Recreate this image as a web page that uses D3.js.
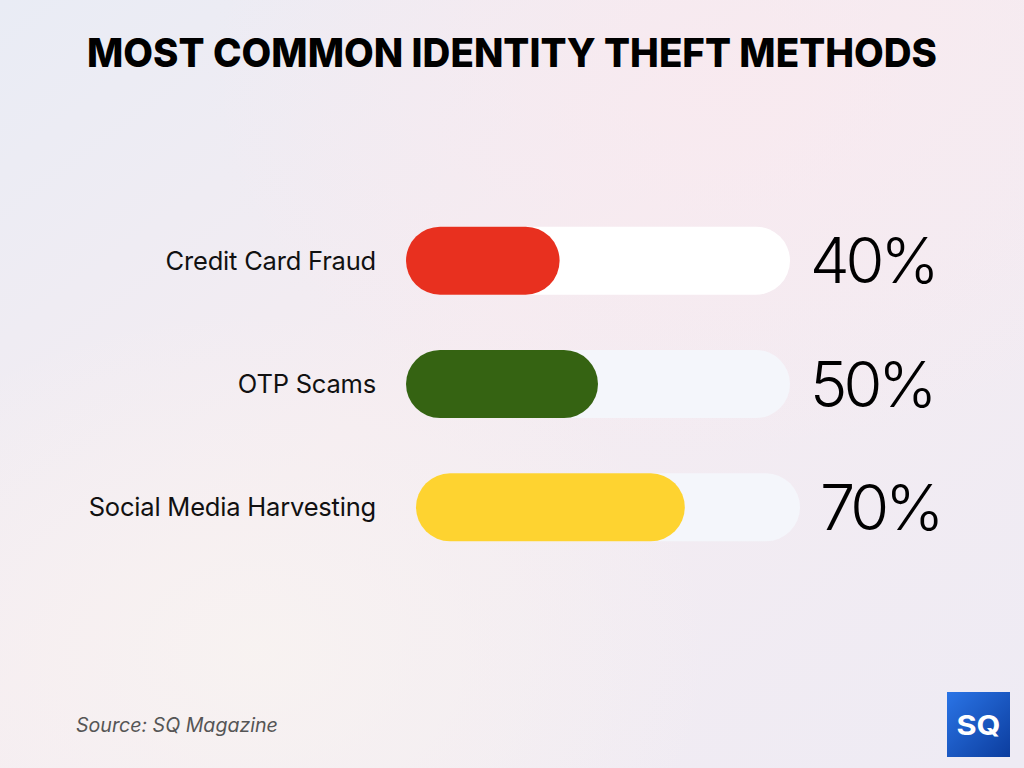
<!DOCTYPE html>
<html><head><meta charset="utf-8">
<script src="https://cdn.jsdelivr.net/npm/d3@7"></script>
<style>html,body{margin:0;padding:0;}svg{display:block;}</style>
</head><body>
<script>
const categories = ["Credit Card Fraud", "OTP Scams", "Social Media Harvesting"];
const values = [40, 50, 70];
const valueLabels = ["40%", "50%", "70%"];
const barColors = ["#e8301f", "#356312", "#fed330"];
const trackColors = ["#ffffff", "#f4f6fb", "#f4f6fb"];
const title = "MOST COMMON IDENTITY THEFT METHODS";
const source = "Source: SQ Magazine";

const W = 1024, H = 768;
const svg = d3.select("body").append("svg").attr("width", W).attr("height", H);
const defs = svg.append("defs");

// background
const bg = defs.append("linearGradient").attr("id","bg").attr("x1","0").attr("y1","0").attr("x2","1").attr("y2","1");
bg.append("stop").attr("offset","0").attr("stop-color","#e9ecf5");
bg.append("stop").attr("offset","0.45").attr("stop-color","#f5ecf1");
bg.append("stop").attr("offset","1").attr("stop-color","#eeebf4");
svg.append("rect").attr("width",W).attr("height",H).attr("fill","url(#bg)");
const rg = defs.append("radialGradient").attr("id","rg1").attr("cx","0.25").attr("cy","0.85").attr("r","0.45");
rg.append("stop").attr("offset","0").attr("stop-color","#f8f3f1").attr("stop-opacity",0.9);
rg.append("stop").attr("offset","1").attr("stop-color","#f8f3f1").attr("stop-opacity",0);
svg.append("rect").attr("width",W).attr("height",H).attr("fill","url(#rg1)");
const rg2 = defs.append("radialGradient").attr("id","rg2").attr("cx","0.7").attr("cy","0.1").attr("r","0.5");
rg2.append("stop").attr("offset","0").attr("stop-color","#f9e9ef").attr("stop-opacity",0.8);
rg2.append("stop").attr("offset","1").attr("stop-color","#f9e9ef").attr("stop-opacity",0);
svg.append("rect").attr("width",W).attr("height",H).attr("fill","url(#rg2)");

// title
svg.append("text").attr("x", 512).attr("y", 67).attr("text-anchor","middle")
  .attr("font-family","Inter, sans-serif").attr("font-weight",800).attr("font-size",40)
  .attr("textLength", 850).attr("lengthAdjust","spacingAndGlyphs")
  .attr("fill","#000").text(title);

// scales
const y = d3.scaleBand().domain(categories).range([199, 569]).padding(0);
const barH = 68;
const trackLen = 384;
const x = d3.scaleLinear().domain([0, 100]).range([0, trackLen]);
const rowShift = [0, 0, 10];
const left = 406;

const rows = svg.selectAll("g.row").data(categories).join("g").attr("class","row")
  .attr("transform", (d,i) => `translate(${left + rowShift[i]},${y(d) + y.bandwidth()/2})`);

rows.append("rect").attr("x", 0).attr("y", -barH/2).attr("width", x(100)).attr("height", barH)
  .attr("rx", barH/2).attr("fill", (d,i) => trackColors[i]);
rows.append("rect").attr("x", 0).attr("y", -barH/2).attr("width", (d,i) => x(values[i])).attr("height", barH)
  .attr("rx", barH/2).attr("fill", (d,i) => barColors[i]);

rows.append("text").attr("x", (d,i) => -30 - rowShift[i]).attr("y", 0).attr("dy","0.35em")
  .attr("text-anchor","end").attr("font-family","Inter, sans-serif").attr("font-size",25.5)
  .attr("letter-spacing", -0.2)
  .attr("fill","#111").text(d => d);

rows.append("text").attr("x", x(100) + 20).attr("y", 0).attr("dy","0.36em")
  .attr("font-family","Inter, sans-serif").attr("font-weight",300).attr("font-size",63)
  .attr("letter-spacing", -4)
  .attr("fill","#000").text((d,i) => valueLabels[i]);

// source
svg.append("text").attr("x", 76).attr("y", 732).attr("font-family","Inter, sans-serif")
  .attr("font-style","italic").attr("font-size",19.6).attr("fill","#555").text(source);

// logo
const lg = defs.append("linearGradient").attr("id","lg").attr("x1","0").attr("y1","0").attr("x2","1").attr("y2","1");
lg.append("stop").attr("offset","0").attr("stop-color","#2a74e6");
lg.append("stop").attr("offset","1").attr("stop-color","#0c3d9e");
svg.append("rect").attr("x", 947).attr("y", 692).attr("width", 63).attr("height", 65).attr("fill","url(#lg)");
svg.append("text").attr("x", 978.5).attr("y", 735).attr("text-anchor","middle")
  .attr("font-family","Inter, sans-serif").attr("font-weight",700).attr("font-size",27)
  .attr("textLength", 44).attr("lengthAdjust","spacingAndGlyphs")
  .attr("fill","#fff").text("SQ");
</script>
</body></html>
